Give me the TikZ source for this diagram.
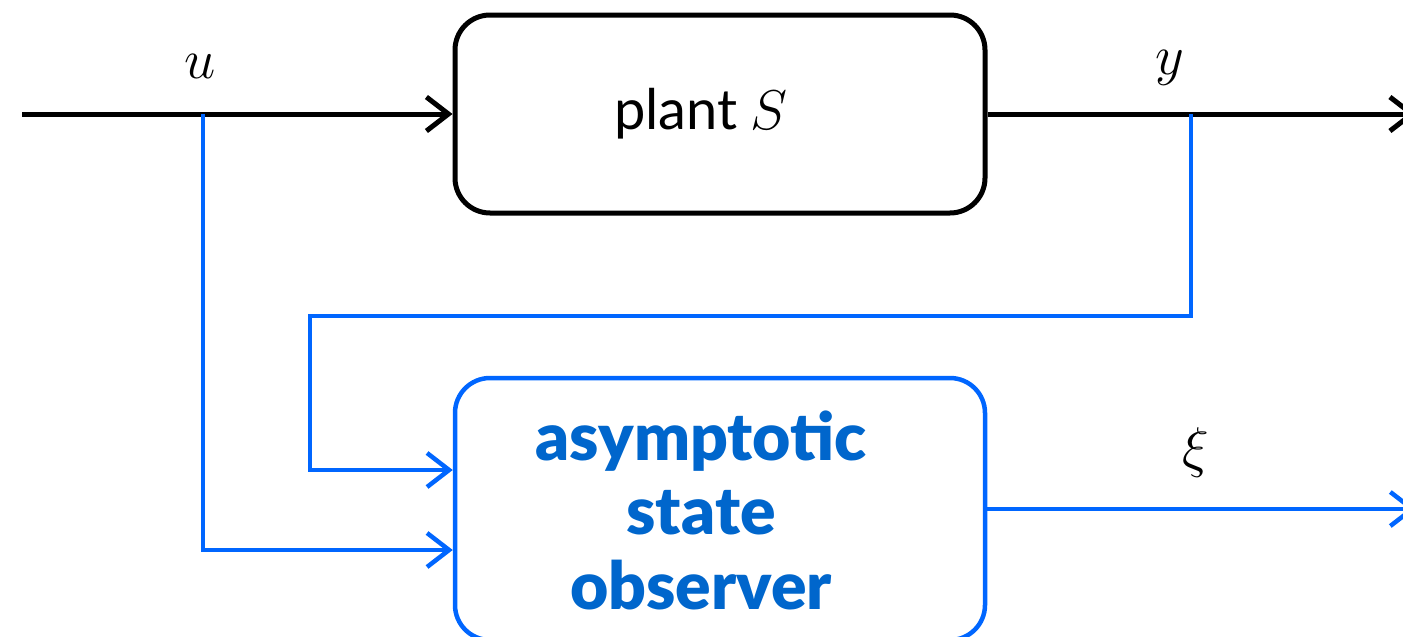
\RequirePackage{fix-cm}
\documentclass[tikz,border=0pt]{standalone}
\usepackage{fontspec}
\setsansfont{Lato}
\newfontfamily\obsfont{Lato Black}
\usetikzlibrary{arrows.meta}
\definecolor{lineblue}{RGB}{0,102,255}
\definecolor{textblue}{RGB}{0,102,204}
\newcommand{\shl}{\hspace*{38pt}}
\tikzset{
  blk/.style={draw=black,line width=5pt,-{Straight Barb[length=22pt,width=34pt,line width=5pt]}},
  bl/.style={draw=lineblue,line width=4.5pt,-{Straight Barb[length=22pt,width=34pt,line width=4.5pt]}},
  block/.style={rounded corners=35pt,minimum width=530pt,inner sep=0pt},
  lab/.style={inner sep=0pt,font=\fontsize{56}{60}\selectfont}
}
\begin{document}
\begin{tikzpicture}[x=1pt,y=-1pt]
\useasboundingbox (0,0) rectangle (1403,637);
\clip (0,0) rectangle (1403,637);
\node[block,draw=black,line width=5pt,minimum height=198pt,
  font=\sffamily\fontsize{56}{60}\selectfont] (plant) at (720,114) {plant\hspace{13pt}$S$\shl};
\node[block,draw=lineblue,line width=4.5pt,minimum height=262pt,text=textblue,
  font=\obsfont\fontsize{66}{74.5}\selectfont] (obs) at (720,509)
  {\raisebox{0pt}[\dimexpr\height+22pt\relax][\depth]{\begin{tabular}{@{}c@{}}asymptotic\\state\\observer\end{tabular}}\shl};
\coordinate (in) at (22,114);
\coordinate (out) at (1416,114);
\coordinate (uj) at (203,114);
\coordinate (yj) at (1191,114);
\coordinate (yb) at (310,316);
\coordinate (xo) at (1416,509);
\node[lab] (ulab) at (200,66) {$u$};
\node[lab] (ylab) at (1170,68) {$y$};
\node[lab] (xilab) at (1196,452) {$\xi$};
\draw[blk] (in) -- (plant.west);
\draw[blk] (plant.east) -- (out);
\draw[bl] (uj) |- ([yshift=-41pt]obs.west);
\draw[bl] (yj) |- (yb) |- ([yshift=39pt]obs.west);
\draw[bl] (obs.east) -- (xo);
\end{tikzpicture}
\end{document}
